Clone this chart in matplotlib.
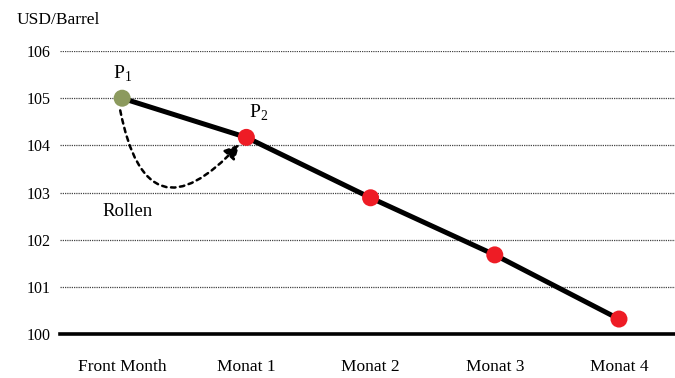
import matplotlib.pyplot as plt
import numpy as np

plt.rcParams['font.family'] = ['Liberation Serif', 'DejaVu Serif']

# data
months = ['Front Month', 'Monat 1', 'Monat 2', 'Monat 3', 'Monat 4']
prices = [105.0, 104.17, 102.89, 101.68, 100.32]
point_colors = ['#8c9a5e', '#ee1c25', '#ee1c25', '#ee1c25', '#ee1c25']
yticks = [100, 101, 102, 103, 104, 105, 106]

fig = plt.figure(figsize=(6.75, 3.78), dpi=100)
ax = fig.add_axes([0.089, 0.116, 0.92, 0.749])

x = np.arange(len(months)) + 0.5

# curve
ax.plot(x, prices, color='black', linewidth=3.6, zorder=3, solid_capstyle='butt')
ax.scatter(x, prices, s=150, color=point_colors, zorder=4, edgecolors='none')

# grid lines
for yv in yticks[1:]:
    ax.axhline(yv, color='#444444', linewidth=0.9, linestyle=(0, (1, 0.8)), zorder=1)
ax.axhline(100, color='black', linewidth=2.6, zorder=2, clip_on=False)

ax.set_xlim(0, 5)
ax.set_ylim(100, 106)
ax.set_xticks(x)
ax.set_xticklabels(months, fontsize=12.5)
ax.set_yticks(yticks)
ax.set_yticklabels([str(v) for v in yticks], fontsize=11.5)
ax.tick_params(axis='x', length=0, pad=18)
ax.tick_params(axis='y', length=0, pad=7)
for s in ax.spines.values():
    s.set_visible(False)

# labels
ax.text(x[0], prices[0] + 0.3, r'P$_\mathregular{1}$', fontsize=14, ha='center', va='bottom')
ax.text(x[1] + 0.1, prices[1] + 0.3, r'P$_\mathregular{2}$', fontsize=14, ha='center', va='bottom')
ax.text(x[0] - 0.16, 102.6, 'Rollen', fontsize=13.5, ha='left', va='center')
fig.text(0.024, 0.948, 'USD/Barrel', fontsize=12.5, ha='left', va='center')

# rolling arrow
ax.annotate('', xy=(x[1] - 0.04, prices[1] - 0.1), xytext=(x[0] - 0.02, prices[0] - 0.2),
            arrowprops=dict(arrowstyle='-|>', linestyle=(0, (1.8, 1.8)), color='black', linewidth=1.8,
                            connectionstyle='arc3,rad=1.0', mutation_scale=22), zorder=5)

plt.savefig('out.png', dpi=100)
